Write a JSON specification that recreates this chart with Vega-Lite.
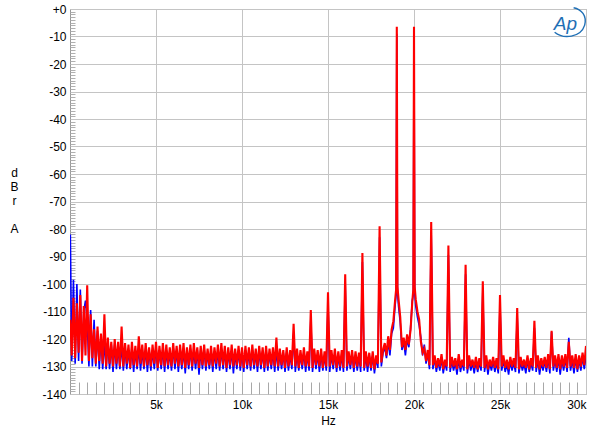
{
  "$schema": "https://vega.github.io/schema/vega-lite/v6.json",
  "width": 516,
  "height": 385,
  "autosize": "none",
  "padding": {"left": 70, "top": 9, "right": 14, "bottom": 45},
  "background": "white",
  "config": {
    "view": {"stroke": "#9a9a9a", "strokeWidth": 1},
    "font": "Liberation Sans",
    "axis": {"labelFont": "Liberation Sans", "titleFont": "Liberation Sans", "labelColor": "#000", "titleColor": "#000", "titleLineHeight": 14}
  },
  "data": {"values": [
    {"f":20,"r":-113,"b":-82},{"f":100,"r":-126,"b":-128},{"f":200,"r":-105,"b":-98.5},{"f":300,"r":-127,"b":-129},{"f":400,"r":-107,"b":-100},
    {"f":500,"r":-125,"b":-128},{"f":600,"r":-104,"b":-102},{"f":700,"r":-128,"b":-129},{"f":800,"r":-108,"b":-110},{"f":900,"r":-126,"b":-106},
    {"f":1000,"r":-100.5,"b":-114},{"f":1100,"r":-128,"b":-130},{"f":1200,"r":-111,"b":-109.5},{"f":1300,"r":-127,"b":-130},{"f":1400,"r":-116.5,"b":-113},
    {"f":1500,"r":-129,"b":-130},{"f":1600,"r":-115.5,"b":-117},{"f":1700,"r":-128,"b":-131},{"f":1800,"r":-118,"b":-119},{"f":1900,"r":-129,"b":-131},
    {"f":2000,"r":-111,"b":-121},{"f":2100,"r":-130,"b":-131},{"f":2200,"r":-119.5,"b":-121},{"f":2300,"r":-129,"b":-131},{"f":2400,"r":-121,"b":-122},
    {"f":2500,"r":-130,"b":-132},{"f":2600,"r":-120,"b":-122},{"f":2700,"r":-129,"b":-131},{"f":2800,"r":-121,"b":-123},{"f":2900,"r":-130,"b":-131},
    {"f":3000,"r":-115.5,"b":-122},{"f":3100,"r":-130,"b":-131.5},{"f":3200,"r":-121.5,"b":-123},{"f":3300,"r":-129,"b":-131},{"f":3400,"r":-122,"b":-124},
    {"f":3500,"r":-130.5,"b":-131},{"f":3600,"r":-121,"b":-123},{"f":3700,"r":-129.5,"b":-132},{"f":3800,"r":-122.5,"b":-124},{"f":3900,"r":-130,"b":-131},
    {"f":4000,"r":-119,"b":-123},{"f":4100,"r":-129,"b":-131.5},{"f":4200,"r":-122,"b":-124},{"f":4300,"r":-130,"b":-131},{"f":4400,"r":-121.5,"b":-123.5},
    {"f":4500,"r":-129.5,"b":-132},{"f":4600,"r":-123,"b":-124},{"f":4700,"r":-130,"b":-131.5},{"f":4800,"r":-122,"b":-124},{"f":4900,"r":-129,"b":-131},
    {"f":5000,"r":-121,"b":-123},{"f":5100,"r":-130.5,"b":-131.5},{"f":5200,"r":-122.5,"b":-124},{"f":5300,"r":-129.5,"b":-131},{"f":5400,"r":-121.5,"b":-123.5},
    {"f":5500,"r":-130,"b":-132},{"f":5600,"r":-122,"b":-124},{"f":5700,"r":-129.5,"b":-131},{"f":5800,"r":-123,"b":-124.5},{"f":5900,"r":-130,"b":-131.5},
    {"f":6000,"r":-121.5,"b":-123},{"f":6100,"r":-129,"b":-131},{"f":6200,"r":-122.5,"b":-124},{"f":6300,"r":-130,"b":-132},{"f":6400,"r":-122,"b":-123.5},
    {"f":6500,"r":-129.5,"b":-131},{"f":6600,"r":-121.5,"b":-124},{"f":6700,"r":-130.5,"b":-132.5},{"f":6800,"r":-123,"b":-124},{"f":6900,"r":-129.5,"b":-131},
    {"f":7000,"r":-122,"b":-123.5},{"f":7100,"r":-130,"b":-131.5},{"f":7200,"r":-121.5,"b":-124},{"f":7300,"r":-129,"b":-131},{"f":7400,"r":-123,"b":-124},
    {"f":7500,"r":-130.5,"b":-133},{"f":7600,"r":-122.5,"b":-124},{"f":7700,"r":-129.5,"b":-131},{"f":7800,"r":-122,"b":-123.5},{"f":7900,"r":-130,"b":-131.5},
    {"f":8000,"r":-123.5,"b":-125},{"f":8100,"r":-129.5,"b":-131},{"f":8200,"r":-122.5,"b":-124},{"f":8300,"r":-130,"b":-132},{"f":8400,"r":-123,"b":-124.5},
    {"f":8500,"r":-129,"b":-131},{"f":8600,"r":-122,"b":-124},{"f":8700,"r":-130,"b":-131.5},{"f":8800,"r":-121.5,"b":-123.5},{"f":8900,"r":-129.5,"b":-131},
    {"f":9000,"r":-122.5,"b":-124},{"f":9100,"r":-130.5,"b":-132},{"f":9200,"r":-123,"b":-124.5},{"f":9300,"r":-129.5,"b":-131},{"f":9400,"r":-122,"b":-124},
    {"f":9500,"r":-130,"b":-132.5},{"f":9600,"r":-123.5,"b":-125},{"f":9700,"r":-129.5,"b":-131},{"f":9800,"r":-122.5,"b":-124},{"f":9900,"r":-130,"b":-131.5},
    {"f":10000,"r":-123,"b":-124.5},{"f":10100,"r":-130.5,"b":-132},{"f":10200,"r":-122.5,"b":-124},{"f":10300,"r":-129.5,"b":-131},{"f":10400,"r":-123,"b":-124.5},
    {"f":10500,"r":-130,"b":-131.5},{"f":10600,"r":-122,"b":-124},{"f":10700,"r":-129.5,"b":-131},{"f":10800,"r":-123.5,"b":-125},{"f":10900,"r":-130,"b":-132},
    {"f":11000,"r":-122.5,"b":-124},{"f":11100,"r":-129.5,"b":-131},{"f":11200,"r":-123,"b":-124.5},{"f":11300,"r":-130.5,"b":-132},{"f":11400,"r":-122.5,"b":-124},
    {"f":11500,"r":-130,"b":-131.5},{"f":11600,"r":-123.5,"b":-125},{"f":11700,"r":-129.5,"b":-131},{"f":11800,"r":-123,"b":-124.5},{"f":11900,"r":-130,"b":-132},
    {"f":12000,"r":-119.5,"b":-124},{"f":12100,"r":-130,"b":-131.5},{"f":12200,"r":-123.5,"b":-125},{"f":12300,"r":-129.5,"b":-131},{"f":12400,"r":-124,"b":-125},
    {"f":12500,"r":-130.5,"b":-132},{"f":12600,"r":-123,"b":-124.5},{"f":12700,"r":-130,"b":-131.5},{"f":12800,"r":-124,"b":-125.5},{"f":12900,"r":-129.5,"b":-131},
    {"f":13000,"r":-114.5,"b":-118},{"f":13100,"r":-130,"b":-132},{"f":13200,"r":-123.5,"b":-125},{"f":13300,"r":-130.5,"b":-131.5},{"f":13400,"r":-124,"b":-125.5},
    {"f":13500,"r":-129.5,"b":-131},{"f":13600,"r":-123,"b":-124.5},{"f":13700,"r":-130,"b":-132},{"f":13800,"r":-124.5,"b":-125.5},{"f":13900,"r":-130,"b":-131.5},
    {"f":14000,"r":-109.5,"b":-113},{"f":14100,"r":-130.5,"b":-132},{"f":14200,"r":-123.5,"b":-125},{"f":14300,"r":-129.5,"b":-131},{"f":14400,"r":-124,"b":-125.5},
    {"f":14500,"r":-130,"b":-132},{"f":14600,"r":-123.5,"b":-125},{"f":14700,"r":-130.5,"b":-131.5},{"f":14800,"r":-124.5,"b":-126},{"f":14900,"r":-130,"b":-131.5},
    {"f":15000,"r":-103,"b":-107},{"f":15100,"r":-130,"b":-132},{"f":15200,"r":-124,"b":-125.5},{"f":15300,"r":-129.5,"b":-131},{"f":15400,"r":-123.5,"b":-125},
    {"f":15500,"r":-130.5,"b":-132},{"f":15600,"r":-124.5,"b":-126},{"f":15700,"r":-130,"b":-131.5},{"f":15800,"r":-124,"b":-125.5},{"f":15900,"r":-130.5,"b":-132},
    {"f":16000,"r":-96.5,"b":-100},{"f":16100,"r":-130,"b":-131.5},{"f":16200,"r":-124.5,"b":-126},{"f":16300,"r":-129.5,"b":-131},{"f":16400,"r":-124,"b":-125},
    {"f":16500,"r":-130.5,"b":-132},{"f":16600,"r":-124.5,"b":-126},{"f":16700,"r":-130,"b":-131.5},{"f":16800,"r":-125,"b":-126},{"f":16900,"r":-130,"b":-132},
    {"f":17000,"r":-88.7,"b":-92},{"f":17100,"r":-130.5,"b":-131.5},{"f":17200,"r":-124.5,"b":-126},{"f":17300,"r":-130,"b":-132},{"f":17400,"r":-125,"b":-126},
    {"f":17500,"r":-130.5,"b":-131.5},{"f":17600,"r":-124.5,"b":-126},{"f":17700,"r":-131,"b":-132.5},{"f":17800,"r":-126,"b":-127},{"f":17900,"r":-129,"b":-130.5},
    {"f":18000,"r":-79,"b":-83},{"f":18100,"r":-128.5,"b":-130},{"f":18200,"r":-124,"b":-125},{"f":18300,"r":-121.5,"b":-123},{"f":18400,"r":-126,"b":-127},
    {"f":18500,"r":-119,"b":-121},{"f":18600,"r":-124,"b":-126},{"f":18700,"r":-116.5,"b":-118},{"f":18800,"r":-113.5,"b":-116},{"f":18900,"r":-106,"b":-108},
    {"f":18960,"r":-102,"b":-104},{"f":19000,"r":-6.5,"b":-9},{"f":19040,"r":-101,"b":-103},
    {"f":19100,"r":-105.5,"b":-108},{"f":19200,"r":-112,"b":-114},{"f":19300,"r":-123,"b":-124},{"f":19400,"r":-119.5,"b":-121},
    {"f":19500,"r":-124,"b":-126},{"f":19600,"r":-118.3,"b":-120},{"f":19700,"r":-122,"b":-123},{"f":19800,"r":-116.7,"b":-116},{"f":19900,"r":-106.5,"b":-106},
    {"f":19960,"r":-102,"b":-104},{"f":20000,"r":-6.5,"b":-9},{"f":20040,"r":-101,"b":-103},
    {"f":20100,"r":-105.5,"b":-108},{"f":20200,"r":-110,"b":-112},{"f":20300,"r":-113,"b":-115},{"f":20400,"r":-121,"b":-119.6},
    {"f":20500,"r":-125,"b":-126},{"f":20600,"r":-123.5,"b":-122},{"f":20700,"r":-128,"b":-129},{"f":20800,"r":-124,"b":-125},{"f":20900,"r":-129.5,"b":-131},
    {"f":21000,"r":-77.5,"b":-81},{"f":21100,"r":-129.5,"b":-131},{"f":21200,"r":-126,"b":-127},{"f":21300,"r":-130.5,"b":-132},{"f":21400,"r":-127,"b":-128},
    {"f":21500,"r":-130,"b":-131.5},{"f":21600,"r":-125.5,"b":-127},{"f":21700,"r":-131,"b":-132.5},{"f":21800,"r":-127.5,"b":-128.5},{"f":21900,"r":-130,"b":-131.5},
    {"f":22000,"r":-86,"b":-89.5},{"f":22100,"r":-130.5,"b":-132},{"f":22200,"r":-126.5,"b":-128},{"f":22300,"r":-130,"b":-131.5},{"f":22400,"r":-127,"b":-128.5},
    {"f":22500,"r":-131,"b":-133},{"f":22600,"r":-125.5,"b":-127},{"f":22700,"r":-130.5,"b":-132},{"f":22800,"r":-127.5,"b":-128.5},{"f":22900,"r":-130,"b":-131.5},
    {"f":23000,"r":-93,"b":-96.5},{"f":23100,"r":-131,"b":-132.5},{"f":23200,"r":-126,"b":-127.5},{"f":23300,"r":-130,"b":-131.5},{"f":23400,"r":-127.5,"b":-128.5},
    {"f":23500,"r":-130.5,"b":-132.5},{"f":23600,"r":-126.5,"b":-128},{"f":23700,"r":-131,"b":-132},{"f":23800,"r":-127,"b":-128.5},{"f":23900,"r":-130,"b":-131.5},
    {"f":24000,"r":-99,"b":-102.5},{"f":24100,"r":-130.5,"b":-132},{"f":24200,"r":-126,"b":-127.5},{"f":24300,"r":-131,"b":-133},{"f":24400,"r":-127.5,"b":-128.5},
    {"f":24500,"r":-130,"b":-131.5},{"f":24600,"r":-126.5,"b":-128},{"f":24700,"r":-130.5,"b":-132},{"f":24800,"r":-127,"b":-128.5},{"f":24900,"r":-131,"b":-132.5},
    {"f":25000,"r":-104,"b":-107.5},{"f":25100,"r":-130,"b":-131.5},{"f":25200,"r":-126,"b":-127.5},{"f":25300,"r":-130.5,"b":-132},{"f":25400,"r":-127.5,"b":-129},
    {"f":25500,"r":-131,"b":-133},{"f":25600,"r":-126.5,"b":-128},{"f":25700,"r":-130,"b":-131.5},{"f":25800,"r":-127,"b":-128.5},{"f":25900,"r":-130.5,"b":-132},
    {"f":26000,"r":-108.7,"b":-112},{"f":26100,"r":-131,"b":-132.5},{"f":26200,"r":-126.5,"b":-128},{"f":26300,"r":-130,"b":-131.5},{"f":26400,"r":-127.5,"b":-129},
    {"f":26500,"r":-130.5,"b":-132.5},{"f":26600,"r":-126,"b":-127.5},{"f":26700,"r":-131,"b":-132},{"f":26800,"r":-127,"b":-128.5},{"f":26900,"r":-130,"b":-131.5},
    {"f":27000,"r":-113.4,"b":-116},{"f":27100,"r":-130.5,"b":-132},{"f":27200,"r":-126,"b":-127.5},{"f":27300,"r":-131,"b":-133},{"f":27400,"r":-127,"b":-128.5},
    {"f":27500,"r":-130,"b":-131.5},{"f":27600,"r":-126.5,"b":-128},{"f":27700,"r":-130.5,"b":-132},{"f":27800,"r":-125.5,"b":-127},{"f":27900,"r":-131,"b":-132.5},
    {"f":28000,"r":-117,"b":-117.5},{"f":28100,"r":-130,"b":-131.5},{"f":28200,"r":-126,"b":-127.5},{"f":28300,"r":-130.5,"b":-132},{"f":28400,"r":-125.5,"b":-127},
    {"f":28500,"r":-131,"b":-133},{"f":28600,"r":-126,"b":-127.5},{"f":28700,"r":-130,"b":-131.5},{"f":28800,"r":-125.5,"b":-127},{"f":28900,"r":-130.5,"b":-132},
    {"f":29000,"r":-121,"b":-119.6},{"f":29100,"r":-130,"b":-131.5},{"f":29200,"r":-126,"b":-127.5},{"f":29300,"r":-130.5,"b":-132.5},{"f":29400,"r":-125.5,"b":-127},
    {"f":29500,"r":-131,"b":-132},{"f":29600,"r":-126,"b":-127.5},{"f":29700,"r":-130,"b":-131.5},{"f":29800,"r":-125,"b":-126.5},{"f":29900,"r":-129.5,"b":-131},
    {"f":30000,"r":-122.5,"b":-126}
  ]},
  "layer": [
    {
      "mark": {"type": "line", "color": "#0000ff", "strokeWidth": 1.6, "clip": true},
      "encoding": {
        "x": {"field": "f", "type": "quantitative",
          "scale": {"domain": [0, 30000], "nice": false, "zero": false},
          "axis": {"orient": "bottom", "values": [5000, 10000, 15000, 20000, 25000, 30000],
            "labelExpr": "(datum.value/1000) + 'k'", "labelFlush": true, "labelFontSize": 12,
            "labelPadding": 5, "ticks": false, "domain": false,
            "grid": true, "gridColor": "#c4c4c4", "gridWidth": 1,
            "title": "Hz", "titleFontSize": 12, "titleFontWeight": "normal", "titlePadding": 5}},
        "y": {"field": "b", "type": "quantitative",
          "scale": {"domain": [-140, 0], "nice": false},
          "axis": {"orient": "left", "values": [-140, -130, -120, -110, -100, -90, -80, -70, -60, -50, -40, -30, -20, -10, 0],
            "labelExpr": "datum.value == 0 ? '+0' : '-' + abs(datum.value)", "labelFlush": false,
            "labelFontSize": 12, "labelPadding": 4, "ticks": false, "domain": false,
            "grid": true, "gridColor": "#c4c4c4", "gridWidth": 1,
            "title": ["d", "B", "r"], "titleAngle": 0, "titleFontSize": 12, "titleFontWeight": "normal",
            "titleLineHeight": 14, "titleAlign": "center", "titleBaseline": "top", "titleX": -56, "titleY": 158}}
      }
    },
    {
      "mark": {"type": "line", "color": "#ff0000", "strokeWidth": 2.1, "clip": true},
      "encoding": {
        "x": {"field": "f", "type": "quantitative",
          "axis": {"orient": "bottom", "values": [500,1000,1500,2000,2500,3000,3500,4000,4500,5000,5500,6000,6500,7000,7500,8000,8500,9000,9500,10000,10500,11000,11500,12000,12500,13000,13500,14000,14500,15000,15500,16000,16500,17000,17500,18000,18500,19000,19500,20000,20500,21000,21500,22000,22500,23000,23500,24000,24500,25000,25500,26000,26500,27000,27500,28000,28500,29000,29500],
            "labels": false, "grid": false, "domain": false, "ticks": true, "tickSize": -12, "tickColor": "#a8a8a8", "tickWidth": 1, "title": null}},
        "y": {"field": "r", "type": "quantitative",
          "axis": {"orient": "left", "values": [-139,-138,-137,-136,-135,-134,-133,-132,-131,-129,-128,-127,-126,-125,-124,-123,-122,-121,-119,-118,-117,-116,-115,-114,-113,-112,-111,-109,-108,-107,-106,-105,-104,-103,-102,-101,-99,-98,-97,-96,-95,-94,-93,-92,-91,-89,-88,-87,-86,-85,-84,-83,-82,-81,-79,-78,-77,-76,-75,-74,-73,-72,-71,-69,-68,-67,-66,-65,-64,-63,-62,-61,-59,-58,-57,-56,-55,-54,-53,-52,-51,-49,-48,-47,-46,-45,-44,-43,-42,-41,-39,-38,-37,-36,-35,-34,-33,-32,-31,-29,-28,-27,-26,-25,-24,-23,-22,-21,-19,-18,-17,-16,-15,-14,-13,-12,-11,-9,-8,-7,-6,-5,-4,-3,-2,-1],
            "labels": false, "grid": false, "domain": false, "ticks": true, "tickSize": -5, "tickColor": "#b0b0b0", "tickWidth": 1,
            "title": "A", "titleAngle": 0, "titleFontSize": 12, "titleFontWeight": "normal",
            "titleAlign": "center", "titleBaseline": "top", "titleX": -56, "titleY": 214}}
      }
    },
    {
      "data": {"values": [{"logo": "Ap"}]},
      "mark": {"type": "point", "shape": "M -0.95 0.6 C -0.4 1.05 0.7 0.95 0.95 0.15 C 1.1 -0.45 0.75 -0.85 0.25 -0.95", "filled": false, "size": 1000, "strokeWidth": 1.4, "color": "#1f6fb5", "opacity": 1},
      "encoding": {
        "x": {"datum": 29050, "type": "quantitative", "axis": null},
        "y": {"datum": -5, "type": "quantitative", "axis": null}
      }
    },
    {
      "data": {"values": [{"logo": "Ap"}]},
      "mark": {"type": "text", "fontStyle": "italic", "fontSize": 19, "font": "Liberation Sans", "color": "#1f6fb5", "align": "center", "baseline": "middle"},
      "encoding": {
        "x": {"datum": 28800, "type": "quantitative", "axis": null},
        "y": {"datum": -5.5, "type": "quantitative", "axis": null},
        "text": {"field": "logo"}
      }
    }
  ],
  "resolve": {"axis": {"x": "independent", "y": "independent"}}
}
